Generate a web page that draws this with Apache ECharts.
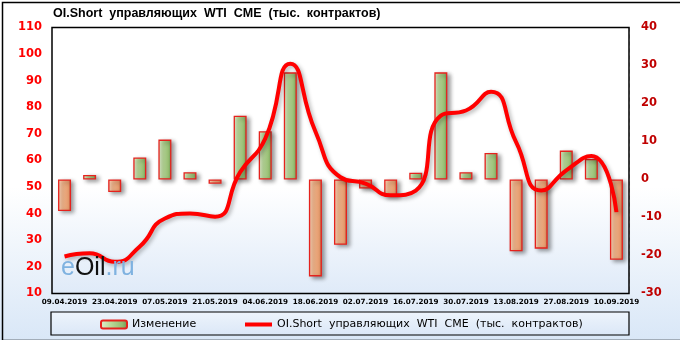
<!DOCTYPE html>
<html>
<head>
<meta charset="utf-8">
<script src="https://cdn.jsdelivr.net/npm/echarts@6/dist/echarts.min.js"></script>
<style>html,body{margin:0;padding:0;background:#fff}#c{width:680px;height:340px}</style>
</head>
<body>
<div id="c"></div>
<script>
const categories = ['09.04.2019','16.04.2019','23.04.2019','30.04.2019','07.05.2019','14.05.2019','21.05.2019','28.05.2019','04.06.2019','11.06.2019','18.06.2019','25.06.2019','02.07.2019','09.07.2019','16.07.2019','23.07.2019','30.07.2019','06.08.2019','13.08.2019','20.08.2019','27.08.2019','03.09.2019','10.09.2019'];
const changeValues = [-8.3, 1.2, -3.3, 5.8, 10.5, 1.9, -1.1, 16.8, 12.7, 28.2, -25.5, -17.2, -2.4, -4.4, 1.8, 28.2, 1.9, 7.0, -18.9, -18.2, 7.6, 5.4, -21.1];
const shortValues = [23.9, 25.1, 21.9, 27.7, 38.2, 40.1, 38.9, 55.6, 68.2, 96.4, 70.9, 53.7, 51.3, 46.9, 48.7, 76.9, 78.8, 85.8, 66.9, 48.7, 56.3, 61.7, 40.6];
const leftTicks = {min: 10, max: 110, interval: 10};
const rightTicks = {min: -30, max: 40, interval: 10};
const titleText = 'OI.Short  управляющих  WTI  CME  (тыс.  контрактов)';
const barName = 'Изменение';
const lineName = 'OI.Short  управляющих  WTI  CME  (тыс.  контрактов)';

const G = echarts.graphic.LinearGradient;
const greenFill = new G(0,0,1,0,[{offset:0,color:'#e2f0d2'},{offset:0.35,color:'#bcdc9c'},{offset:0.8,color:'#93bb6f'},{offset:1,color:'#6f8f4f'}]);
const orangeFill = new G(0,0,1,0,[{offset:0,color:'#fcd8bd'},{offset:0.35,color:'#f7b98f'},{offset:0.8,color:'#e49a6c'},{offset:1,color:'#b5714a'}]);
const barStyle = (fill) => ({color: fill, borderColor:'#e5221d', borderWidth:1.3, shadowColor:'rgba(0,0,0,0.4)', shadowBlur:4, shadowOffsetX:3, shadowOffsetY:2});
const legendText = {fontFamily:'DejaVu Sans', fontSize:11, color:'#000'};

const chart = echarts.init(document.getElementById('c'), null, {renderer:'canvas'});
chart.setOption({
  animation: false,
  backgroundColor: new G(0,0,0,1,[{offset:0,color:'#ffffff'},{offset:0.55,color:'#ffffff'},{offset:1,color:'#d9e7f7'}]),
  graphic: [
    {type:'rect', left:0, top:0, z:-1, shape:{x:0.5,y:0.5,width:679,height:338}, style:{fill:null, stroke:'#000', lineWidth:1.5}, silent:true},
    {type:'rect', z:0, shape:{x:51,y:312,width:578,height:23}, style:{fill:new G(0,0,0,1,[{offset:0,color:'#eef4fc'},{offset:1,color:'#dae7f7'}]), stroke:'#000', lineWidth:1.2}, silent:true},
    {type:'text', left:53, top:7, z:10, style:{text:titleText, fill:'#000', font:'bold 12.5px "Liberation Sans"'}},
    {type:'text', left:61, top:256, z:10, style:{text:'{a|e}{b|Oil}{a|.ru}', rich:{a:{fill:'#7fb2e0', font:'25px "Liberation Sans"'}, b:{fill:'#111', font:'25px "Liberation Sans"'}}}}
  ],
  legend: [
    {left: 95, top: 314, itemWidth: 26, itemHeight: 8, itemGap: 5, textStyle: legendText, data: [barName]},
    {left: 240, top: 314, itemWidth: 27, itemHeight: 4, itemGap: 5, textStyle: legendText, icon:'rect', data: [lineName]}
  ],
  grid: {left:52, right:51, top:27.5, bottom:46.5, show:true, z:1,
    backgroundColor: new G(0,0,0,1,[{offset:0,color:'#ffffff'},{offset:0.6,color:'#ffffff'},{offset:1,color:'#dfeaf8'}]),
    borderColor:'#000', borderWidth:1.5},
  xAxis: {
    type:'category', data: categories, boundaryGap:true,
    axisLine:{show:false}, axisTick:{show:false},
    axisLabel:{interval:1, margin:5, color:'#000', fontFamily:'DejaVu Sans', fontWeight:'bold', fontSize:7.2},
    splitLine:{show:true, interval:0, lineStyle:{color:'#c4c4c4', type:[4,3], width:1}}
  },
  yAxis: [
    {type:'value', min:leftTicks.min, max:leftTicks.max, interval:leftTicks.interval, position:'left',
     axisLine:{show:false}, axisTick:{show:false},
     axisLabel:{margin:10, color:'#ff0000', fontFamily:'DejaVu Sans', fontWeight:'bold', fontSize:11.5},
     splitLine:{show:true, lineStyle:{color:'#c4c4c4', type:[4,3], width:1}}},
    {type:'value', min:rightTicks.min, max:rightTicks.max, interval:rightTicks.interval, position:'right',
     axisLine:{show:false}, axisTick:{show:false},
     axisLabel:{margin:12, color:'#c00000', fontFamily:'DejaVu Sans', fontWeight:'bold', fontSize:11.5},
     splitLine:{show:false}}
  ],
  series: [
    {name:barName, type:'bar', yAxisIndex:1, barWidth:13, z:2,
     itemStyle: barStyle(greenFill),
     data: changeValues.map(v => ({value:v, itemStyle: barStyle(v >= 0 ? greenFill : orangeFill)}))},
    {name:lineName, type:'line', yAxisIndex:0, smooth:0.55, symbol:'none', z:3,
     lineStyle:{color:'#ff0000', width:4, shadowColor:'rgba(0,0,0,0.3)', shadowBlur:4, shadowOffsetX:2, shadowOffsetY:2},
     itemStyle:{color:'#ff0000'},
     data: shortValues}
  ]
});
</script>
</body>
</html>
